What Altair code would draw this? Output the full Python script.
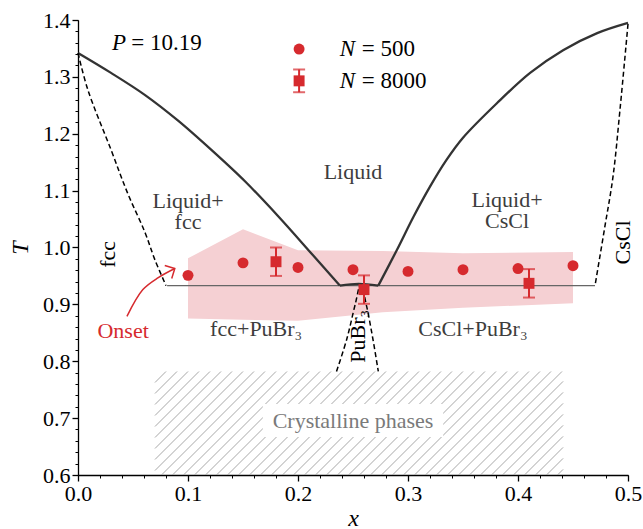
import altair as alt
import numpy as np
import pandas as pd

FONT = "Liberation Serif, Times New Roman, Times, serif"
RED = "#d62a2e"
PINK = "#f5d0d3"
DARK = "#333333"
TXT = "#3d3d3d"

# ---------------- data ----------------
liq_left_x = [0.0, 0.03, 0.061, 0.091, 0.121, 0.152, 0.182, 0.212, 0.238]
liq_left_T = [1.342, 1.307, 1.268, 1.223, 1.172, 1.116, 1.055, 0.990, 0.933]
eut_mid_x = [0.238, 0.255, 0.273]
eut_mid_T = [0.933, 0.936, 0.933]
liq_right_x = [0.273, 0.29, 0.305, 0.32, 0.335, 0.35, 0.381, 0.411, 0.441, 0.472, 0.5]
liq_right_T = [0.933, 0.996, 1.054, 1.107, 1.154, 1.193, 1.254, 1.307, 1.347, 1.377, 1.395]

fcc_x = [0.0, 0.009, 0.03, 0.045, 0.061, 0.07, 0.08]
fcc_T = [1.342, 1.277, 1.172, 1.096, 1.026, 0.978, 0.933]
cscl_x = [0.5, 0.4927, 0.4864, 0.479, 0.47]
cscl_T = [1.393, 1.242, 1.125, 1.037, 0.933]
pubr_x = [0.235, 0.2445, 0.252, 0.257, 0.262, 0.268, 0.273]
pubr_T = [0.782, 0.84, 0.9, 0.935, 0.9, 0.84, 0.782]

eutectic_x = [0.081, 0.47]
eutectic_T = [0.933, 0.933]

band_x = [0.1, 0.15, 0.2, 0.277, 0.35, 0.45]
band_top = [0.981, 1.032, 0.995, 0.994, 0.990, 0.992]
band_bot = [0.875, 0.873, 0.871, 0.886, 0.894, 0.902]

n500_x = [0.1, 0.15, 0.2, 0.25, 0.3, 0.35, 0.4, 0.45]
n500_T = [0.951, 0.973, 0.965, 0.961, 0.958, 0.961, 0.963, 0.968]

n8000_x = [0.18, 0.26, 0.41]
n8000_T = [0.975, 0.926, 0.937]
n8000_err = [0.025, 0.025, 0.025]

hatch_x = [0.07, 0.441]
hatch_T = [0.6, 0.782]
hatch_step = 0.01

x_ticks = [0.0, 0.1, 0.2, 0.3, 0.4, 0.5]
y_ticks = [0.6, 0.7, 0.8, 0.9, 1.0, 1.1, 1.2, 1.3, 1.4]
x_minor = [round(v, 2) for v in np.arange(0, 0.5001, 0.02)]
y_minor = [round(v, 2) for v in np.arange(0.6, 1.4001, 0.02)]

labels_text = ["Liquid", "Liquid+\nfcc", "Liquid+\nCsCl", "fcc+PuBr₃", "CsCl+PuBr₃"]
labels_x = [0.25, 0.1, 0.39, 0.162, 0.359]
labels_T = [1.133, 1.081, 1.084, 0.856, 0.856]

rot_text = ["fcc", "CsCl", "PuBr₃"]
rot_x = [0.027, 0.4955, 0.2545]
rot_T = [0.988, 1.009, 0.844]

cryst_text = ["Crystalline phases"]
cryst_x = [0.25]
cryst_T = [0.695]
cryst_box_x = [0.168, 0.332]
cryst_box_T = [0.667, 0.725]

onset_text = ["Onset"]
onset_x = [0.041]
onset_T = [0.853]
arrow_x = [0.0445, 0.059, 0.073, 0.088]
arrow_T = [0.879, 0.926, 0.947, 0.963]

legend_x = 0.201
legend_T = [1.349, 1.293]
legend_err = 0.02
legend_N_x = 0.238
legend_eq_x = 0.258
legend_text = ["= 500", "= 8000"]

p_x = [0.031, 0.0485]
p_T = 1.36
p_text = ["P", "= 10.19"]

# ---------------- frames ----------------
lines = []
for seg, (xx, tt) in enumerate([(liq_left_x, liq_left_T), (eut_mid_x, eut_mid_T), (liq_right_x, liq_right_T)]):
    for i, (a, b) in enumerate(zip(xx, tt)):
        lines.append({"seg": seg, "i": i, "x": a, "T": b})
solid_df = pd.DataFrame(lines)

dashed = []
for seg, (xx, tt) in enumerate([(fcc_x, fcc_T), (cscl_x, cscl_T), (pubr_x, pubr_T)]):
    for i, (a, b) in enumerate(zip(xx, tt)):
        dashed.append({"seg": seg, "i": i, "x": a, "T": b})
dashed_df = pd.DataFrame(dashed)

eut_df = pd.DataFrame({"x": eutectic_x, "T": eutectic_T})
band_df = pd.DataFrame({"x": band_x, "top": band_top, "bot": band_bot})
n500_df = pd.DataFrame({"x": n500_x, "T": n500_T})
n8000_df = pd.DataFrame({"x": n8000_x, "T": n8000_T,
                         "lo": [t - e for t, e in zip(n8000_T, n8000_err)],
                         "hi": [t + e for t, e in zip(n8000_T, n8000_err)]})
caps_df = pd.concat([n8000_df[["x", "lo"]].rename(columns={"lo": "T"}),
                     n8000_df[["x", "hi"]].rename(columns={"hi": "T"})])

# hatch pattern: 45 degree (on screen) lines clipped to the hatched rectangle
ratio = (455 / 0.8) / (550 / 0.5)
height = hatch_T[1] - hatch_T[0]
dxh = height * ratio
hl = []
for c in np.arange(hatch_x[0] - dxh + hatch_step, hatch_x[1], hatch_step):
    x1, t1 = c, hatch_T[0]
    x2, t2 = c + dxh, hatch_T[1]
    if x1 < hatch_x[0]:
        t1 = hatch_T[0] + (hatch_x[0] - c) / ratio
        x1 = hatch_x[0]
    if x2 > hatch_x[1]:
        t2 = hatch_T[0] + (hatch_x[1] - c) / ratio
        x2 = hatch_x[1]
    hl.append({"x": x1, "T": t1, "x2": x2, "T2": t2})
hatch_df = pd.DataFrame(hl)

# ---------------- scales / axes ----------------
xs = alt.Scale(domain=[0, 0.5], nice=False, zero=False)
ys = alt.Scale(domain=[0.6, 1.4], nice=False, zero=False)

common_axis = dict(domainColor="black", domainWidth=1.3, tickColor="black", tickWidth=1.3,
                   labelFont=FONT, labelFontSize=22, labelColor="black", grid=False,
                   titleFont=FONT, titleFontSize=24, titleFontStyle="italic",
                   titleFontWeight="normal", titleColor="black", labelOverlap=False)

major_x = alt.Axis(values=x_ticks, format=".1f", orient="bottom", tickSize=6, labelPadding=2,
                   labelFlush=False, title="x", titlePadding=2, **common_axis)
major_y = alt.Axis(values=y_ticks, format=".1f", orient="left", tickSize=6, labelPadding=2,
                   title="T", titlePadding=10, **common_axis)
minor_x = alt.Axis(values=x_minor, orient="bottom", tickSize=3, labels=False, domain=False,
                   tickColor="black", tickWidth=1, grid=False, title="")
minor_y = alt.Axis(values=y_minor, orient="left", tickSize=3, labels=False, domain=False,
                   tickColor="black", tickWidth=1, grid=False, title="")


def ex(f="x"):
    return alt.X(f"{f}:Q", scale=xs, axis=None)


def ey(f="T"):
    return alt.Y(f"{f}:Q", scale=ys, axis=None)


band = alt.Chart(band_df).mark_area(color=PINK, opacity=1).encode(
    x=alt.X("x:Q", scale=xs, axis=major_x),
    y=alt.Y("top:Q", scale=ys, axis=major_y),
    y2="bot:Q",
)
minor = alt.Chart(band_df).mark_point(opacity=0).encode(
    x=alt.X("x:Q", scale=xs, axis=minor_x),
    y=alt.Y("top:Q", scale=ys, axis=minor_y),
)

hatch = alt.Chart(hatch_df).mark_rule(color="#a8a8a8", strokeWidth=1).encode(
    x=ex(), y=ey(), x2="x2:Q", y2="T2:Q")

cryst_box = alt.Chart(pd.DataFrame({"x": [cryst_box_x[0]], "x2": [cryst_box_x[1]],
                                    "T": [cryst_box_T[0]], "T2": [cryst_box_T[1]]})).mark_rect(
    color="white").encode(x=ex(), x2="x2:Q", y=ey(), y2="T2:Q")

cryst = alt.Chart(pd.DataFrame({"x": cryst_x, "T": cryst_T, "t": cryst_text})).mark_text(
    font=FONT, fontSize=22, color="#7a7a7a").encode(x=ex(), y=ey(), text="t:N")

eut = alt.Chart(eut_df).mark_line(color="#666666", strokeWidth=1.3).encode(x=ex(), y=ey())

solid = alt.Chart(solid_df).mark_line(color=DARK, strokeWidth=2.3, interpolate="catmull-rom").encode(
    x=ex(), y=ey(), detail="seg:N", order="i:Q")

dash = alt.Chart(dashed_df).mark_line(color="black", strokeWidth=1.5, strokeDash=[5, 3],
                                      interpolate="catmull-rom").encode(
    x=ex(), y=ey(), detail="seg:N", order="i:Q")

pts500 = alt.Chart(n500_df).mark_point(shape="circle", filled=True, size=120, color=RED, opacity=1).encode(
    x=ex(), y=ey())

err = alt.Chart(n8000_df).mark_rule(color=RED, strokeWidth=2).encode(x=ex(), y=ey("lo"), y2="hi:Q")
caps = alt.Chart(caps_df).mark_tick(color=RED, orient="horizontal", size=12, thickness=2).encode(
    x=ex(), y=ey())
pts8000 = alt.Chart(n8000_df).mark_point(shape="square", filled=True, size=120, color=RED, opacity=1).encode(
    x=ex(), y=ey())

labels = alt.Chart(pd.DataFrame({"x": labels_x, "T": labels_T, "t": labels_text})).mark_text(
    font=FONT, fontSize=22, color=TXT, lineBreak="\n", lineHeight=21).encode(x=ex(), y=ey(), text="t:N")
rot = alt.Chart(pd.DataFrame({"x": rot_x, "T": rot_T, "t": rot_text})).mark_text(
    font=FONT, fontSize=22, color="black", angle=270).encode(x=ex(), y=ey(), text="t:N")

onset = alt.Chart(pd.DataFrame({"x": onset_x, "T": onset_T, "t": onset_text})).mark_text(
    font=FONT, fontSize=22, color=RED).encode(x=ex(), y=ey(), text="t:N")
arrow_df = pd.DataFrame({"x": arrow_x, "T": arrow_T, "i": list(range(len(arrow_x)))})
arrow = alt.Chart(arrow_df).mark_line(color=RED, strokeWidth=1.5, interpolate="catmull-rom").encode(
    x=ex(), y=ey(), order="i:Q")
head = alt.Chart(arrow_df.tail(1)).mark_point(shape="M-1,-1L0,0L-1,1", size=220, angle=332,
                                              filled=False, color=RED, strokeWidth=1.5, opacity=1).encode(
    x=ex(), y=ey())

p_df = pd.DataFrame({"x": p_x, "T": [p_T, p_T], "t": p_text})
p_it = alt.Chart(p_df.iloc[[0]]).mark_text(font=FONT, fontSize=23, fontStyle="italic", align="left",
                                          color="black").encode(x=ex(), y=ey(), text="t:N")
p_rest = alt.Chart(p_df.iloc[[1]]).mark_text(font=FONT, fontSize=23, align="left",
                                            color="black").encode(x=ex(), y=ey(), text="t:N")

leg_df = pd.DataFrame({"x": [legend_x, legend_x], "T": legend_T,
                       "lo": [legend_T[0], legend_T[1] - legend_err],
                       "hi": [legend_T[0], legend_T[1] + legend_err],
                       "nx": [legend_N_x] * 2, "ex": [legend_eq_x] * 2,
                       "N": ["N", "N"], "t": legend_text})
leg_c = alt.Chart(leg_df.iloc[[0]]).mark_point(shape="circle", filled=True, size=120, color=RED, opacity=1).encode(
    x=ex(), y=ey())
leg_s = alt.Chart(leg_df.iloc[[1]]).mark_point(shape="square", filled=True, size=120, color=RED, opacity=1).encode(
    x=ex(), y=ey())
leg_e = alt.Chart(leg_df.iloc[[1]]).mark_rule(color=RED, strokeWidth=2).encode(x=ex(), y=ey("lo"), y2="hi:Q")
leg_caps_df = pd.DataFrame({"x": [legend_x, legend_x],
                            "T": [legend_T[1] - legend_err, legend_T[1] + legend_err]})
leg_caps = alt.Chart(leg_caps_df).mark_tick(color=RED, orient="horizontal", size=12, thickness=2).encode(
    x=ex(), y=ey())
leg_N = alt.Chart(leg_df).mark_text(font=FONT, fontSize=23, fontStyle="italic", align="left",
                                    color="black").encode(x=ex("nx"), y=ey(), text="N:N")
leg_t = alt.Chart(leg_df).mark_text(font=FONT, fontSize=23, align="left",
                                    color="black").encode(x=ex("ex"), y=ey(), text="t:N")

chart = alt.layer(
    band, minor, hatch, cryst_box, cryst, eut, solid, dash, err, caps, pts8000, pts500,
    labels, rot, onset, arrow, head, p_it, p_rest, leg_c, leg_e, leg_caps, leg_s, leg_N, leg_t,
).resolve_axis(x="independent", y="independent").properties(
    width=550, height=455,
    autosize=alt.AutoSizeParams(type="none"),
    padding={"left": 78, "top": 20, "right": 15, "bottom": 54},
    background="white",
).configure_view(stroke=None)

chart.save("out.html", embed_options={"renderer": "svg", "actions": False})
